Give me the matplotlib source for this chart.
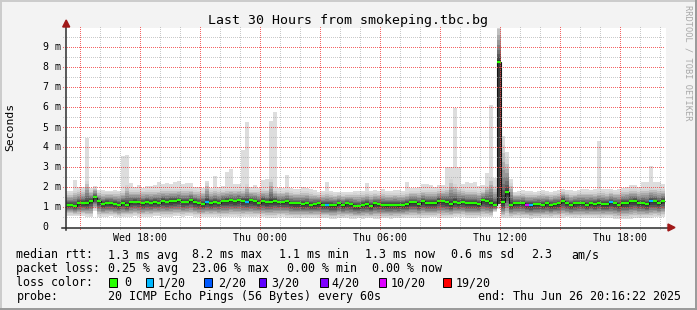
import datetime as dt

import matplotlib
matplotlib.use("Agg")
import matplotlib.pyplot as plt
import numpy as np
from matplotlib.lines import Line2D
from matplotlib.patches import Polygon, Rectangle

# ---------------------------------------------------------------------------
# Data (12-minute consolidated steps, values in ms)
# ---------------------------------------------------------------------------

START = dt.datetime(2025, 6, 25, 14, 16, 22)
SPAN_H = 30
STEP_H = 0.2
COL_SHIFT_H = -0.025

MEDIAN_MS = [
    1.15, 1.15, 1.10, 1.23, 1.23, 1.23, 1.35, 1.52, 1.32, 1.18,
    1.25, 1.23, 1.18, 1.13, 1.25, 1.15, 1.27, 1.30, 1.27, 1.22,
    1.30, 1.25, 1.28, 1.25, 1.33, 1.30, 1.33, 1.33, 1.37, 1.30,
    1.30, 1.38, 1.28, 1.22, 1.20, 1.30, 1.23, 1.30, 1.25, 1.33,
    1.33, 1.37, 1.32, 1.38, 1.33, 1.30, 1.37, 1.33, 1.25, 1.33,
    1.27, 1.30, 1.35, 1.27, 1.27, 1.32, 1.22, 1.22, 1.22, 1.18,
    1.22, 1.15, 1.18, 1.22, 1.15, 1.15, 1.13, 1.13, 1.23, 1.13,
    1.22, 1.18, 1.10, 1.07, 1.15, 1.18, 1.08, 1.22, 1.18, 1.15,
    1.13, 1.15, 1.15, 1.13, 1.15, 1.18, 1.27, 1.27, 1.18, 1.32,
    1.23, 1.23, 1.23, 1.35, 1.32, 1.27, 1.18, 1.30, 1.23, 1.30,
    1.23, 1.23, 1.23, 1.18, 1.38, 1.32, 1.22, 1.15, 8.27, 1.27,
    1.78, 1.15, 1.22, 1.23, 1.23, 1.15, 1.13, 1.18, 1.18, 1.15,
    1.22, 1.13, 1.18, 1.22, 1.35, 1.22, 1.13, 1.22, 1.22, 1.22,
    1.15, 1.22, 1.18, 1.23, 1.18, 1.18, 1.27, 1.22, 1.15, 1.23,
    1.23, 1.32, 1.35, 1.23, 1.23, 1.18, 1.32, 1.32, 1.23, 1.35,
]

SMOKE_LO_MS = [
    0.60, 0.60, 0.58, 0.58, 0.60, 0.55, 0.52, 0.85, 0.55, 0.55,
    0.55, 0.58, 0.55, 0.52, 0.52, 0.55, 0.55, 0.58, 0.55, 0.55,
    0.55, 0.55, 0.58, 0.58, 0.55, 0.55, 0.55, 0.58, 0.58, 0.55,
    0.58, 0.58, 0.55, 0.55, 0.55, 0.55, 0.55, 0.55, 0.52, 0.52,
    0.52, 0.55, 0.55, 0.52, 0.52, 0.55, 0.52, 0.52, 0.55, 0.52,
    0.50, 0.48, 0.48, 0.55, 0.55, 0.50, 0.50, 0.48, 0.48, 0.50,
    0.48, 0.50, 0.50, 0.48, 0.48, 0.48, 0.45, 0.45, 0.47, 0.47,
    0.47, 0.45, 0.45, 0.47, 0.45, 0.47, 0.47, 0.45, 0.45, 0.47,
    0.47, 0.45, 0.47, 0.47, 0.48, 0.50, 0.50, 0.50, 0.48, 0.50,
    0.50, 0.52, 0.52, 0.50, 0.50, 0.50, 0.50, 0.52, 0.55, 0.55,
    0.50, 0.50, 0.50, 0.52, 0.52, 0.52, 0.52, 0.77, 0.95, 0.47,
    0.47, 0.47, 0.50, 0.50, 0.48, 0.48, 0.45, 0.47, 0.47, 0.48,
    0.48, 0.48, 0.50, 0.47, 0.50, 0.52, 0.50, 0.48, 0.50, 0.50,
    0.50, 0.50, 0.50, 0.48, 0.48, 0.50, 0.48, 0.45, 0.45, 0.45,
    0.45, 0.45, 0.48, 0.48, 0.48, 0.48, 0.48, 0.52, 0.52, 0.55,
]

# upper edge of the graded smoke
SMOKE_TOP_MS = [
    1.80, 1.80, 1.95, 1.95, 1.95, 2.50, 1.95, 2.10, 1.85, 1.85,
    1.85, 1.85, 1.85, 1.85, 1.90, 2.30, 1.95, 1.95, 1.95, 1.95,
    1.95, 1.95, 1.95, 2.00, 2.00, 2.00, 2.00, 2.00, 2.00, 2.00,
    2.00, 2.00, 1.95, 1.95, 1.95, 2.35, 1.95, 2.00, 1.95, 1.95,
    2.00, 2.00, 2.00, 2.00, 2.00, 2.30, 1.95, 1.95, 1.95, 2.00,
    2.00, 2.60, 2.00, 1.90, 1.90, 1.95, 1.90, 1.85, 1.85, 1.90,
    1.90, 1.85, 1.80, 1.75, 1.80, 1.85, 1.80, 1.75, 1.78, 1.75,
    1.75, 1.78, 1.80, 1.80, 1.80, 1.85, 1.80, 1.82, 1.80, 1.85,
    1.80, 1.80, 1.82, 1.82, 1.80, 1.85, 1.90, 1.90, 1.90, 1.95,
    1.95, 1.95, 1.95, 2.00, 2.00, 2.10, 2.60, 2.30, 2.10, 2.00,
    2.00, 2.00, 2.00, 1.95, 1.95, 2.20, 2.70, 2.20, 10.5, 4.60,
    3.70, 2.40, 1.80, 1.80, 1.82, 1.80, 1.80, 1.78, 1.80, 1.85,
    1.80, 1.78, 1.80, 1.82, 1.90, 1.85, 1.82, 1.80, 1.85, 1.85,
    1.90, 1.85, 1.85, 1.90, 1.90, 1.85, 1.90, 1.85, 1.90, 1.95,
    2.00, 2.00, 2.00, 1.95, 2.05, 2.05, 2.10, 2.05, 2.05, 2.00,
]

# slowest ping of each step (light grey smoke)
SMOKE_PEAK_MS = [
    1.82, 1.82, 2.40, 2.05, 2.05, 4.50, 2.00, 2.10, 1.90, 1.90,
    1.85, 1.85, 1.90, 1.85, 3.60, 3.65, 2.25, 2.05, 2.15, 2.00,
    2.10, 2.10, 2.15, 2.30, 2.20, 2.25, 2.20, 2.30, 2.35, 2.20,
    2.25, 2.25, 2.05, 2.05, 2.00, 2.35, 2.00, 2.60, 2.05, 2.10,
    2.80, 2.95, 2.20, 2.20, 3.90, 5.30, 2.05, 2.15, 2.00, 2.40,
    2.43, 5.35, 5.77, 2.00, 2.00, 2.65, 2.00, 1.93, 1.93, 2.05,
    2.00, 1.93, 1.88, 1.77, 1.85, 2.27, 1.85, 1.77, 1.80, 1.77,
    1.77, 1.80, 1.85, 1.85, 1.82, 2.22, 1.85, 1.88, 1.85, 1.93,
    1.85, 1.85, 1.88, 1.88, 1.85, 2.27, 2.00, 2.00, 2.02, 2.18,
    2.18, 2.15, 2.05, 2.15, 2.15, 3.05, 3.05, 6.00, 3.05, 2.20,
    2.27, 2.22, 2.27, 2.10, 2.13, 2.72, 6.15, 2.50, 10.5, 4.60,
    3.77, 2.43, 1.80, 1.85, 1.88, 1.85, 1.82, 1.80, 1.85, 1.90,
    1.85, 1.80, 1.85, 1.88, 1.95, 1.90, 1.88, 1.85, 1.90, 1.92,
    1.95, 1.90, 1.92, 4.35, 1.95, 1.92, 1.95, 1.90, 1.95, 2.00,
    2.05, 2.15, 2.15, 2.05, 2.27, 2.27, 3.10, 2.27, 2.27, 2.18,
]

# step index -> dark core floor (ms) where most pings sat far above the minimum
SPIKE_CORE_FLOOR = {108: 1.2}

# step index -> loss class label (all others are "0")
LOSS_AT = {35: "1/20", 45: "1/20", 65: "1/20", 115: "10/20",
           116: "1/20", 136: "1/20", 146: "1/20"}

LOSS_LABELS = ["0", "1/20", "2/20", "3/20", "4/20", "10/20", "19/20"]
LOSS_COLORS = ["#26ff00", "#00b8ff", "#0059ff", "#5e00ff", "#7e00ff", "#dd00ff", "#ff0000"]

Y_TICKS_MS = [0, 1, 2, 3, 4, 5, 6, 7, 8, 9]

TITLE = "Last 30 Hours from smokeping.tbc.bg"
RTT_ROW = [("median rtt:", 16.4), ("1.3 ms avg", 107.5), ("8.2 ms max", 192.4),
           ("1.1 ms min", 279.1), ("1.3 ms now", 365.3), ("0.6 ms sd", 451.1),
           ("2.3", 531.1), ("am/s", 571.1)]
LOSS_ROW = [("packet loss:", 16.4), ("0.25 % avg", 107.5), ("23.06 % max", 192.4),
            ("0.00 % min", 286.7), ("0.00 % now", 372.4)]
PROBE_ROW = [("probe:", 16.4), ("20 ICMP Echo Pings (56 Bytes) every 60s", 107.5)]
END_TEXT = "end: Thu Jun 26 20:16:22 2025"

# ---------------------------------------------------------------------------
# Layout (pixels)
# ---------------------------------------------------------------------------

W, H = 697, 310
PLOT_L, PLOT_R = 65.5, 665.5
PLOT_B, PLOT_T = 227.5, 27.5
Y_MAX = 10

MONO = "DejaVu Sans Mono"
BG = "#f3f3f3"
AXIS_COLOR = "#2c2c2c"
ARROW_COLOR = "#a01818"
MINOR_GRID = (0.62, 0.62, 0.62, 0.55)
MAJOR_GRID = (0.95, 0.25, 0.25, 0.8)


def fx(x):
    return x / W


def fy(y):
    return 1 - y / H


def grid_overlay(x_lines, y_lines):
    """RGBA image holding RRD-style 1-on/1-off dotted grid lines (pixel coords)."""
    img = np.zeros((H, W, 4))
    top, bot = int(PLOT_T), int(PLOT_B)
    left, right = int(PLOT_L), int(PLOT_R)
    for x, rgba in x_lines:
        rows = np.arange(top, bot + 3, 2)
        img[rows, int(x)] = rgba
    for y, rgba in y_lines:
        cols = np.arange(left - 2, right, 2)
        img[int(y), cols] = rgba
    return img


def main():
    med = np.array(MEDIAN_MS)
    lo = np.array(SMOKE_LO_MS)
    top = np.array(SMOKE_TOP_MS)
    peak = np.array(SMOKE_PEAK_MS)
    n = len(med)
    assert len(lo) == len(top) == len(peak) == n

    fig = plt.figure(figsize=(W / 100, H / 100), dpi=100, facecolor=BG)
    ax = fig.add_axes([fx(PLOT_L), fy(PLOT_B), (PLOT_R - PLOT_L) / W, (PLOT_B - PLOT_T) / H])
    ax.set_xlim(0, SPAN_H)
    ax.set_ylim(0, Y_MAX)
    ax.set_facecolor("white")
    for s in ax.spines.values():
        s.set_visible(False)
    ax.set_xticks([])
    ax.set_yticks([])

    edges = COL_SHIFT_H + STEP_H * np.arange(n + 1)

    def ext(v):
        return np.append(v, v[-1])

    # smoke: lightest layer min..max, then darker layers closing on the median
    ax.fill_between(edges, ext(lo), ext(peak), step="post", color="#dddddd", lw=0, zorder=1)
    n_layers = 10
    for k in range(1, n_layers):
        f = 1 - k / n_layers
        bot = med - (med - lo) * f ** 0.9
        up = med + (top - med) * f ** 1.4
        g = (0xd4 - (0xd4 - 0x30) * (k - 1) / (n_layers - 2)) / 255
        ax.fill_between(edges, ext(bot), ext(up), step="post", color=(g, g, g), lw=0, zorder=1 + k)
    for i, floor in SPIKE_CORE_FLOOR.items():
        ax.bar(edges[i], med[i] - floor, bottom=floor, width=STEP_H, align="edge",
               color="#3a3a3a", lw=0, zorder=12)

    # median: thin dark step line + loss-coloured segments
    ax.stairs(med, edges, baseline=None, color="#151515", lw=0.8, zorder=13)
    colors = [LOSS_COLORS[LOSS_LABELS.index(LOSS_AT.get(i, "0"))] for i in range(n)]
    ax.hlines(med, edges[:-1], edges[1:], colors=colors, lw=1.6, zorder=14)

    # dotted grid drawn over the data
    px_x = (PLOT_R - PLOT_L) / SPAN_H
    px_y = (PLOT_B - PLOT_T) / Y_MAX
    t = START.replace(minute=0, second=0) + dt.timedelta(hours=1)
    x_lines, x_labels = [], []
    while t < START + dt.timedelta(hours=SPAN_H):
        h = (t - START).total_seconds() / 3600
        x_lines.append((PLOT_L + h * px_x, MAJOR_GRID if t.hour % 3 == 0 else MINOR_GRID))
        if t.hour % 6 == 0:
            x_labels.append((h, t.strftime("%a %H:%M")))
        t += dt.timedelta(hours=1)
    y_lines = [(PLOT_B - v * px_y, MAJOR_GRID if float(v).is_integer() else MINOR_GRID)
               for v in np.arange(0.5, Y_MAX, 0.5)]
    fig.figimage(grid_overlay(x_lines, y_lines), xo=0, yo=0, origin="upper", zorder=5,
                 interpolation="nearest")

    # axes with arrows
    fig.add_artist(Line2D([fx(62), fx(669)], [fy(PLOT_B), fy(PLOT_B)], color=AXIS_COLOR,
                          lw=1.1, zorder=6))
    fig.add_artist(Line2D([fx(66.2), fx(66.2)], [fy(PLOT_B + 2), fy(24)], color=AXIS_COLOR,
                          lw=1.1, zorder=6))
    fig.add_artist(Polygon([(fx(675), fy(PLOT_B)), (fx(668), fy(PLOT_B - 3.5)),
                            (fx(668), fy(PLOT_B + 3.5))], closed=True, color=ARROW_COLOR, zorder=6))
    fig.add_artist(Polygon([(fx(66.2), fy(20)), (fx(62.7), fy(27)), (fx(69.7), fy(27))],
                           closed=True, color=ARROW_COLOR, zorder=6))

    # tick labels
    for h, lab in x_labels:
        fig.text(fx(PLOT_L + h * px_x), fy(240.7), lab, ha="center", va="baseline",
                 fontsize=7.1, family=MONO)
    for v in Y_TICKS_MS:
        lab = "0" if v == 0 else f"{v} m"
        fig.text(fx(42.7), fy(PLOT_B - v * px_y), lab, ha="left", va="center",
                 fontsize=7.1, family=MONO)

    fig.text(fx(10.5), fy(127), "Seconds", rotation=90, ha="center", va="center",
             fontsize=8.2, family=MONO)
    fig.text(fx(347.5), fy(24), TITLE, ha="center", va="baseline", fontsize=9.5, family=MONO)
    fig.text(fx(688.3), fy(5), "RRDTOOL / TOBI OETIKER", rotation=270, ha="center", va="top",
             fontsize=6.2, family=MONO, color="#a8a8a8")

    # legend rows
    for row, base in ((RTT_ROW, 258.5), (LOSS_ROW, 272.0), (PROBE_ROW, 300.0)):
        for s, x in row:
            fig.text(fx(x), fy(base), s, ha="left", va="baseline", fontsize=8.37, family=MONO)
    fig.text(fx(681), fy(300.0), END_TEXT, ha="right", va="baseline", fontsize=8.37, family=MONO)
    fig.text(fx(16.4), fy(286.0), "loss color:", ha="left", va="baseline", fontsize=8.37, family=MONO)
    box_x = [108.9, 145.8, 204.4, 258.7, 320.0, 378.7, 443.1]
    text_x = [124.4, 157.8, 217.8, 271.1, 331.1, 391.1, 455.6]
    for lab, col, bx, tx in zip(LOSS_LABELS, LOSS_COLORS, box_x, text_x):
        fig.add_artist(Rectangle((fx(bx), fy(286.5)), 7.6 / W, 8.2 / H, transform=fig.transFigure,
                                 facecolor=col, edgecolor="black", lw=0.7))
        fig.text(fx(tx), fy(286.0), lab, ha="left", va="baseline", fontsize=8.37, family=MONO)

    # 3D-ish frame
    fig.add_artist(Line2D([0, 1], [fy(0.7), fy(0.7)], color="#cbcbcb", lw=1.4))
    fig.add_artist(Line2D([fx(0.7), fx(0.7)], [0, 1], color="#cbcbcb", lw=1.4))
    fig.add_artist(Line2D([0, 1], [fy(H - 1), fy(H - 1)], color="#999999", lw=1.4))
    fig.add_artist(Line2D([fx(W - 1), fx(W - 1)], [0, 1], color="#999999", lw=1.4))

    fig.savefig("out.png", dpi=100, facecolor=BG)
    plt.close(fig)


if __name__ == "__main__":
    main()
